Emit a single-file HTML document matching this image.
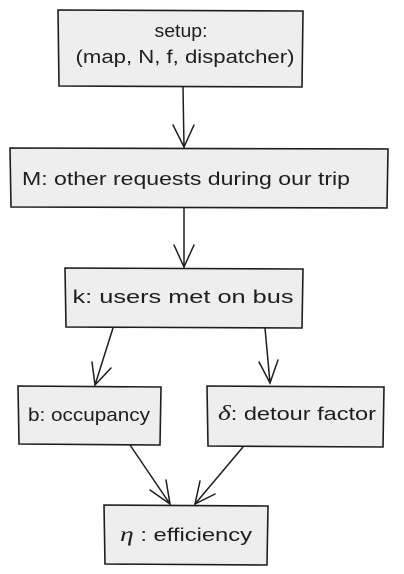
<!DOCTYPE html>
<html><head><meta charset="utf-8"><style>
html,body{margin:0;padding:0;background:#fff;}
svg{display:block}
text{font-family:"Liberation Sans","DejaVu Sans",sans-serif;font-size:18px;fill:#1e1e1e;text-anchor:middle;dominant-baseline:middle}
</style></head><body>
<svg width="404" height="574" viewBox="0 0 404 574" xmlns="http://www.w3.org/2000/svg">
<g fill="#eeeeee" stroke="#1e1e1e" stroke-width="1.6">
<path d="M58 10 L303 11 L302 87 L59 86 Z"/>
<path d="M10 148 L388 149 L387 208 L11 207 Z"/>
<path d="M65 268 L303 269 L302 328 L66 327 Z"/>
<path d="M18 386 L161 387 L160 445 L19 444 Z"/>
<path d="M207 386 L384 387 L383 447 L208 446 Z"/>
<path d="M104 505 L268 506 L267 565 L105 564 Z"/>
</g>
<g fill="none" stroke="#1e1e1e" stroke-width="1.5" stroke-linecap="round">
<path d="M183 87 L184 147"/><path d="M173 125 L184 147 L194 125"/>
<path d="M184 208 L184 267"/><path d="M174 245 L184 267 L194 245"/>
<path d="M113 328 L95 385"/><path d="M92 362 L95 385 L111 368"/>
<path d="M265 328 L270 383"/><path d="M259 362 L270 383 L278 360"/>
<path d="M130 445 L170 504"/><path d="M150 490 L170 504 L166 480"/>
<path d="M243 447 L195 504"/><path d="M200 481 L195 504 L215 494"/>
</g>
<text x="181" y="32" textLength="53" lengthAdjust="spacingAndGlyphs">setup:</text>
<text x="185" y="58" textLength="219" lengthAdjust="spacingAndGlyphs">(map, N, f, dispatcher)</text>
<text x="186" y="180" textLength="328" lengthAdjust="spacingAndGlyphs">M: other requests during our trip</text>
<text x="183" y="298" textLength="221" lengthAdjust="spacingAndGlyphs">k: users met on bus</text>
<text x="89" y="416" textLength="122" lengthAdjust="spacingAndGlyphs">b: occupancy</text>
<text x="297" y="415" textLength="158" lengthAdjust="spacingAndGlyphs"><tspan font-family="Liberation Serif,serif" font-style="italic" font-size="21">δ</tspan>: detour factor</text>
<text x="186" y="536" textLength="132" lengthAdjust="spacingAndGlyphs"><tspan font-family="Liberation Serif,serif" font-style="italic" font-size="21">η</tspan> : efficiency</text>
</svg>
</body></html>
